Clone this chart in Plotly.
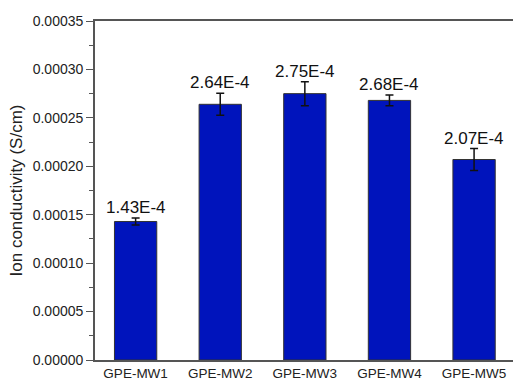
import plotly.graph_objects as go

samples = ["GPE-MW1", "GPE-MW2", "GPE-MW3", "GPE-MW4", "GPE-MW5"]
conductivity = [1.43e-4, 2.64e-4, 2.75e-4, 2.68e-4, 2.07e-4]
conductivity_err = [3.5e-6, 1.13e-5, 1.24e-5, 5.5e-6, 1.13e-5]
value_labels = ["1.43E-4", "2.64E-4", "2.75E-4", "2.68E-4", "2.07E-4"]
y_ticks = [0, 0.00005, 0.0001, 0.00015, 0.0002, 0.00025, 0.0003, 0.00035]

FONT = "Arial, Liberation Sans, sans-serif"

fig = go.Figure()
fig.add_trace(go.Bar(
    x=list(range(len(samples))),
    y=conductivity,
    width=0.5,
    marker=dict(color="rgb(0,20,188)", line=dict(color="#333333", width=1)),
    error_y=dict(type="data", array=conductivity_err, visible=True,
                 color="#111111", thickness=1.5, width=4),
))

for i, (v, e, lab) in enumerate(zip(conductivity, conductivity_err, value_labels)):
    fig.add_annotation(x=i, y=v + e, text=lab, showarrow=False,
                       yanchor="bottom", yshift=-1,
                       font=dict(family=FONT, size=17, color="#111111"))

fig.update_layout(
    width=513, height=380,
    margin=dict(l=95, r=0, t=21, b=20, autoexpand=False),
    plot_bgcolor="white", paper_bgcolor="white",
    showlegend=False,
    font=dict(family=FONT, color="#222222"),
    xaxis=dict(
        range=[-0.48, 4.46],
        tickmode="array",
        tickvals=list(range(len(samples))),
        ticktext=samples,
        ticks="",
        tickfont=dict(size=13.5, color="#222222"),
        showline=True, linecolor="#555555", linewidth=1.8, mirror=True,
        showgrid=False, zeroline=False,
    ),
    yaxis=dict(
        range=[0, 0.00035],
        tickmode="array",
        tickvals=y_ticks,
        tickformat=".5f",
        ticks="outside", ticklen=7, tickwidth=1.3, tickcolor="#555555",
        minor=dict(ticks="outside", ticklen=4, tickwidth=1.3,
                   tickcolor="#555555", dtick=0.000025),
        tickfont=dict(size=14, color="#222222"),
        showline=True, linecolor="#555555", linewidth=1.8,
        showgrid=False, zeroline=False,
        title=dict(text="Ion conductivity (S/cm)", standoff=6,
                   font=dict(size=17, color="#222222")),
    ),
)

fig.write_html("out.html")
